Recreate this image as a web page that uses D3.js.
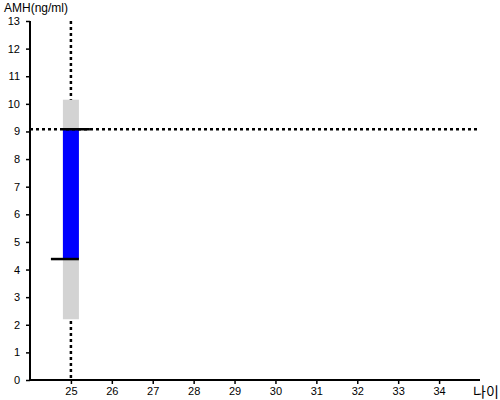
<!DOCTYPE html>
<html><head><meta charset="utf-8">
<script src="https://cdn.jsdelivr.net/npm/d3@7"></script>
<style>body{margin:0;background:#fff}svg{display:block}text{font-family:"Liberation Sans",Arial,sans-serif}</style>
</head><body>
<svg id="c" width="500" height="400"></svg>
<script>
const xTicks = [25,26,27,28,29,30,31,32,33,34];
const yTicks = [0,1,2,3,4,5,6,7,8,9,10,11,12,13];
const age = [25];
const rangeLow = [2.2];
const rangeHigh = [10.15];
const valueLow = [4.38];
const valueHigh = [9.08];
const refAge = 25;
const refValue = 9.08;

const svg = d3.select("#c");
const m = {l:30, r:20, t:21, b:20};
const W = 500, H = 400;
const x = d3.scaleLinear().domain([24,35]).range([m.l, W - m.r]);
const y = d3.scaleLinear().domain([0,13]).range([H - m.b, m.t]);

svg.append("line").attr("x1", x(refAge)).attr("x2", x(refAge)).attr("y1", y(13)).attr("y2", y(0))
  .attr("stroke","#000").attr("stroke-width",2.5).attr("stroke-dasharray","3,3");

svg.selectAll("rect.rng").data(age).join("rect").attr("class","rng")
  .attr("x", d => x(d) - 8).attr("width", 16)
  .attr("y", (d,i) => y(rangeHigh[i])).attr("height", (d,i) => y(rangeLow[i]) - y(rangeHigh[i]))
  .attr("fill","#d3d3d3");
svg.selectAll("rect.val").data(age).join("rect").attr("class","val")
  .attr("x", d => x(d) - 8).attr("width", 16)
  .attr("y", (d,i) => y(valueHigh[i])).attr("height", (d,i) => y(valueLow[i]) - y(valueHigh[i]))
  .attr("fill","#0000ff");

svg.append("line").attr("x1", x(24)).attr("x2", x(35)).attr("y1", y(refValue)).attr("y2", y(refValue))
  .attr("stroke","#000").attr("stroke-width",2.5).attr("stroke-dasharray","3,3");

age.forEach((d,i) => {
  svg.append("line").attr("x1", x(d) - 8).attr("x2", x(d) + 19).attr("y1", y(valueHigh[i])).attr("y2", y(valueHigh[i]))
    .attr("stroke","#000").attr("stroke-width",2.5);
  svg.append("line").attr("x1", x(d) - 20).attr("x2", x(d) + 8).attr("y1", y(valueLow[i])).attr("y2", y(valueLow[i]))
    .attr("stroke","#000").attr("stroke-width",2.5);
});

const xa = svg.append("g").attr("transform", `translate(0,${H - m.b})`)
  .call(d3.axisBottom(x).tickValues(xTicks).tickSize(4).tickFormat(d3.format("d")));
const ya = svg.append("g").attr("transform", `translate(${m.l},0)`)
  .call(d3.axisLeft(y).tickValues(yTicks).tickSize(4).tickFormat(d3.format("d")));
[xa, ya].forEach(g => {
  g.select(".domain").attr("stroke","#000").attr("stroke-width",2);
  g.selectAll(".tick line").attr("stroke","#000").attr("stroke-width",1.5);
  g.selectAll("text").attr("fill","#000").style("font-size","11px").style("font-family","'Liberation Sans',Arial,sans-serif");
});
ya.select(".domain").attr("d", `M0,${y(13)}V${y(0)}`);
xa.select(".domain").attr("d", `M${x(24)},0H${x(35)}`);
ya.selectAll(".tick text").attr("x", -10);
xa.selectAll(".tick text").attr("y", 7);

svg.append("text").attr("x", 4).attr("y", 12).text("AMH(ng/ml)").style("font-size","12px").attr("fill","#000");
svg.append("text").attr("x", 473).attr("y", 397).text("나이").style("font-size","14px").attr("fill","#000")
  .style("font-family","'Noto Sans CJK KR',sans-serif");
</script>
</body></html>
